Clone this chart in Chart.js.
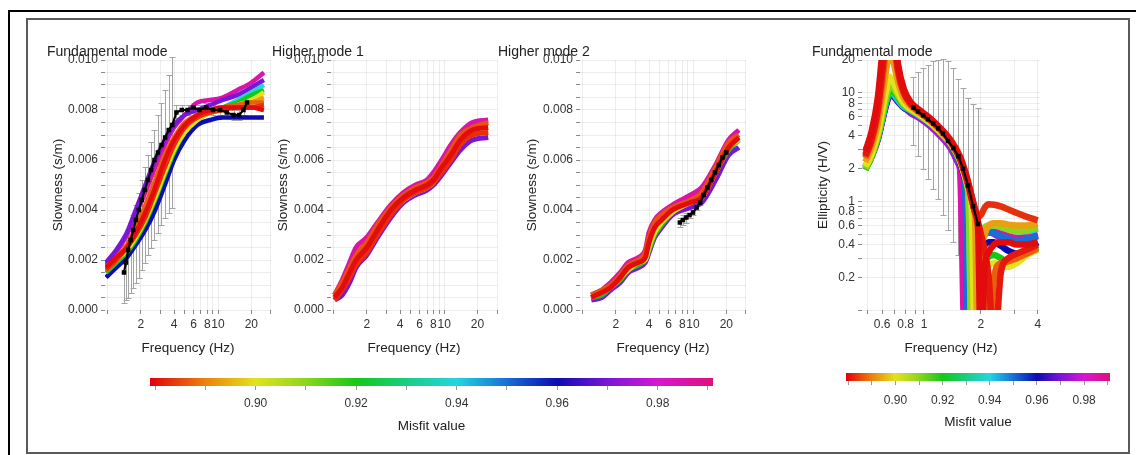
<!DOCTYPE html>
<html>
<head>
<meta charset="utf-8">
<title>Inversion results</title>
<script src="https://cdn.jsdelivr.net/npm/chart.js@4.4.1/dist/chart.umd.min.js"></script>
<style>
  html, body { margin: 0; padding: 0; background: #fff; }
  #page { position: relative; width: 1136px; height: 455px; overflow: hidden; background: #fff; }
  #page canvas { position: absolute; }
  .frame-outer { position: absolute; left: 8px; top: 10px; width: 1140px; height: 460px; border-top: 2px solid #000; border-left: 2px solid #000; }
  .frame-inner { position: absolute; left: 26px; top: 18px; width: 1104px; height: 436px; border: 2px solid #5a5a5a; box-sizing: border-box; }
</style>
</head>
<body>
<div id="page">
  <div class="frame-outer"></div>
  <div class="frame-inner"></div>
  <canvas id="fm" width="232" height="316" style="left:45px;top:40px"></canvas>
  <canvas id="h1" width="233" height="316" style="left:270px;top:40px"></canvas>
  <canvas id="h2" width="256" height="316" style="left:496px;top:40px"></canvas>
  <canvas id="ell" width="236" height="316" style="left:810px;top:40px"></canvas>
  <canvas id="cbDisp" width="583" height="72" style="left:140px;top:368px"></canvas>
  <canvas id="cbEll" width="284" height="72" style="left:836px;top:363px"></canvas>
</div>
<script>
// ---- axis ticks ----
const SLOW_LABELS = [0, 0.002, 0.004, 0.006, 0.008, 0.010];
const FREQ_TICKS = [1, 2, 3, 4, 5, 6, 7, 8, 9, 10, 20, 30];
const FREQ_LABELS = [2, 4, 6, 8, 10, 20];
const ELL_FREQ_TICKS = [0.5, 0.6, 0.7, 0.8, 0.9, 1, 2, 3, 4];
const ELL_FREQ_LABELS = [0.6, 0.8, 1, 2, 4];
const ELL_TICKS = [0.1, 0.2, 0.3, 0.4, 0.5, 0.6, 0.7, 0.8, 0.9, 1, 2, 3, 4, 5, 6, 7, 8, 9, 10, 20];
const ELL_LABELS = [0.2, 0.4, 0.6, 0.8, 1, 2, 4, 6, 8, 10, 20];
const MISFIT_RANGE = [0.879, 0.991];
const MISFIT_TICKS = [0.88, 0.89, 0.90, 0.91, 0.92, 0.93, 0.94, 0.95, 0.96, 0.97, 0.98, 0.99];
const MISFIT_LABELS = [0.90, 0.92, 0.94, 0.96, 0.98];

// ---- fundamental mode, slowness (s/m) ----
const FM_FREQ = [0.97, 1.2, 1.5, 1.8, 2.2, 2.7, 3.3, 4.0, 5.0, 6.5, 8.5, 11, 15, 20, 26];
const FM_985 = [0.0018, 0.0023, 0.0030, 0.0038, 0.0047, 0.0057, 0.0066, 0.0073, 0.0078, 0.0083, 0.0084, 0.0085, 0.0088, 0.0091, 0.0095];
const FM_970 = [0.0019, 0.0024, 0.0031, 0.0040, 0.0050, 0.0060, 0.0068, 0.0074, 0.0078, 0.0080, 0.0082, 0.0084, 0.0086, 0.0089, 0.0092];
const FM_960 = [0.0013, 0.0017, 0.0021, 0.0026, 0.0032, 0.0040, 0.0050, 0.0060, 0.0068, 0.0074, 0.0076, 0.0077, 0.0077, 0.0077, 0.0077];
const FM_940 = [0.0015, 0.0019, 0.0024, 0.0029, 0.0036, 0.0045, 0.0055, 0.0064, 0.0071, 0.0076, 0.0079, 0.0081, 0.0084, 0.0087, 0.0090];
const FM_920 = [0.0015, 0.0019, 0.0023, 0.0028, 0.0035, 0.0044, 0.0054, 0.0063, 0.0071, 0.0076, 0.0079, 0.0081, 0.0083, 0.0086, 0.0088];
const FM_900 = [0.0016, 0.0020, 0.0024, 0.0029, 0.0036, 0.0045, 0.0055, 0.0064, 0.0071, 0.0076, 0.0079, 0.0080, 0.0082, 0.0084, 0.0087];
const FM_893 = [0.0016, 0.0020, 0.0025, 0.0031, 0.0038, 0.0048, 0.0058, 0.0066, 0.0073, 0.0077, 0.0079, 0.0080, 0.0082, 0.0083, 0.0085];
const FM_887 = [0.0017, 0.0021, 0.0026, 0.0033, 0.0042, 0.0052, 0.0062, 0.0069, 0.0075, 0.0078, 0.0080, 0.0081, 0.0082, 0.0083, 0.0083];
const FM_883 = [0.0016, 0.0020, 0.0025, 0.0030, 0.0037, 0.0047, 0.0057, 0.0066, 0.0073, 0.0077, 0.0079, 0.0080, 0.0081, 0.0081, 0.0082];
const FM_880 = [0.0017, 0.0021, 0.0025, 0.0031, 0.0039, 0.0049, 0.0060, 0.0068, 0.0074, 0.0078, 0.0080, 0.0081, 0.0081, 0.0081, 0.0080];

const FM_OBS_FREQ = [1.41, 1.47, 1.54, 1.62, 1.71, 1.81, 1.92, 2.04, 2.17, 2.32, 2.48, 2.66, 2.86, 3.08, 3.32, 3.58, 3.86, 4.2, 4.7, 5.3, 6.0, 6.8, 7.8, 9.0, 10.4, 12, 13.8, 15.5, 17, 18.3];
const FM_OBS = [0.0015, 0.0019, 0.0024, 0.0028, 0.0032, 0.0036, 0.0040, 0.0044, 0.0048, 0.0052, 0.0056, 0.0060, 0.0063, 0.0066, 0.0069, 0.0072, 0.0074, 0.0079, 0.0080, 0.0080, 0.0081, 0.0080, 0.0081, 0.0080, 0.0080, 0.0079, 0.0078, 0.0078, 0.0080, 0.0083];
const FM_OBS_LOW = [0.0003, 0.0004, 0.0005, 0.0007, 0.0009, 0.0011, 0.0013, 0.0016, 0.0019, 0.0022, 0.0025, 0.0028, 0.0031, 0.0034, 0.0037, 0.0039, 0.0041, 0.0077, 0.0078, 0.0078, 0.0079, 0.0078, 0.0079, 0.0078, 0.0078, 0.0077, 0.0076, 0.0076, 0.0078, 0.0081];
const FM_OBS_HIGH = [0.0026, 0.0029, 0.0032, 0.0035, 0.0038, 0.0042, 0.0047, 0.0052, 0.0057, 0.0062, 0.0067, 0.0072, 0.0078, 0.0083, 0.0088, 0.0094, 0.0101, 0.0082, 0.0082, 0.0082, 0.0083, 0.0082, 0.0083, 0.0082, 0.0082, 0.0081, 0.0080, 0.0080, 0.0082, 0.0085];

// ---- higher mode 1 ----
const H1_FREQ = [1.02, 1.2, 1.4, 1.6, 2.0, 2.5, 3.3, 4.3, 5.5, 7.0, 8.0, 9.5, 11.5, 14, 18, 25];
const H1_985 = [0.0006, 0.0012, 0.0019, 0.0025, 0.0029, 0.0035, 0.0042, 0.0047, 0.0050, 0.0052, 0.0055, 0.0060, 0.0066, 0.0071, 0.0075, 0.0076];
const H1_970 = [0.0004, 0.0006, 0.0011, 0.0017, 0.0022, 0.0029, 0.0037, 0.0043, 0.0046, 0.0048, 0.0050, 0.0054, 0.0059, 0.0064, 0.0068, 0.0069];
const H1_900 = [0.0005, 0.0009, 0.0014, 0.0019, 0.0024, 0.0031, 0.0039, 0.0044, 0.0047, 0.0049, 0.0051, 0.0056, 0.0061, 0.0067, 0.0071, 0.0072];
const H1_886 = [0.0006, 0.0011, 0.0017, 0.0022, 0.0027, 0.0034, 0.0041, 0.0046, 0.0049, 0.0051, 0.0053, 0.0058, 0.0064, 0.0070, 0.0073, 0.0075];
const H1_883 = [0.0004, 0.0008, 0.0013, 0.0018, 0.0023, 0.0030, 0.0038, 0.0044, 0.0047, 0.0049, 0.0051, 0.0055, 0.0060, 0.0066, 0.0070, 0.0071];
const H1_880 = [0.0005, 0.0009, 0.0015, 0.0020, 0.0025, 0.0032, 0.0040, 0.0045, 0.0048, 0.0050, 0.0052, 0.0057, 0.0062, 0.0068, 0.0072, 0.0073];

// ---- higher mode 2 ----
const H2_FREQ = [1.2, 1.5, 1.8, 2.2, 2.6, 3.2, 3.7, 4.0, 4.5, 5.2, 6.5, 9.5, 12, 16, 21, 26];
const H2_985 = [0.0006, 0.0008, 0.0011, 0.0015, 0.0019, 0.0021, 0.0024, 0.0031, 0.0036, 0.0039, 0.0042, 0.0046, 0.0049, 0.0058, 0.0068, 0.0072];
const H2_970 = [0.0004, 0.0005, 0.0008, 0.0011, 0.0015, 0.0017, 0.0019, 0.0023, 0.0029, 0.0033, 0.0038, 0.0041, 0.0043, 0.0052, 0.0062, 0.0065];
const H2_920 = [0.0005, 0.0006, 0.0009, 0.0012, 0.0016, 0.0018, 0.0020, 0.0024, 0.0030, 0.0034, 0.0039, 0.0043, 0.0045, 0.0055, 0.0064, 0.0068];
const H2_900 = [0.0005, 0.0007, 0.0009, 0.0013, 0.0016, 0.0019, 0.0020, 0.0025, 0.0031, 0.0035, 0.0039, 0.0043, 0.0045, 0.0055, 0.0065, 0.0068];
const H2_886 = [0.0006, 0.0008, 0.0010, 0.0014, 0.0018, 0.0020, 0.0023, 0.0029, 0.0035, 0.0038, 0.0041, 0.0044, 0.0047, 0.0057, 0.0067, 0.0070];
const H2_880 = [0.0005, 0.0007, 0.0009, 0.0013, 0.0017, 0.0019, 0.0021, 0.0027, 0.0033, 0.0036, 0.0040, 0.0043, 0.0045, 0.0055, 0.0065, 0.0069];

const H2_OBS_FREQ = [7.6, 8.1, 8.7, 9.3, 10, 10.8, 11.6, 12.5, 13.5, 14.6, 15.8, 17.1, 18.5, 20];
const H2_OBS = [0.0035, 0.0036, 0.0037, 0.0038, 0.0039, 0.0041, 0.0043, 0.0046, 0.0049, 0.0052, 0.0055, 0.0058, 0.0061, 0.0063];
const H2_OBS_LOW = [0.0033, 0.0034, 0.0035, 0.0037, 0.0038, 0.0040, 0.0042, 0.0045, 0.0048, 0.0051, 0.0054, 0.0057, 0.0060, 0.0062];
const H2_OBS_HIGH = [0.0037, 0.0038, 0.0039, 0.0039, 0.0040, 0.0042, 0.0044, 0.0047, 0.0050, 0.0053, 0.0056, 0.0059, 0.0062, 0.0064];

// ---- ellipticity (H/V), fundamental mode ----
const ELL_FREQ = [0.49, 0.53, 0.57, 0.60, 0.63, 0.66, 0.69, 0.73, 0.78, 0.85, 0.95, 1.08, 1.22, 1.38, 1.55, 1.65, 1.72, 1.79, 1.86, 1.93, 2.0, 2.1, 2.2, 2.35, 2.55, 2.8, 3.1, 3.5, 4.0];
const ELL_985 = [2.0, 2.6, 3.7, 5.4, 7.6, 9.4, 9.2, 8.2, 7.3, 6.7, 6.0, 5.1, 4.2, 3.3, 2.0, 0.04, 0.15, 0.30, 0.40, 0.47, 0.52, 0.56, 0.57, 0.56, 0.52, 0.48, 0.46, 0.47, 0.50];
const ELL_975 = [2.1, 2.7, 3.8, 5.6, 7.9, 9.7, 9.4, 8.4, 7.4, 6.5, 5.8, 4.9, 4.0, 3.1, 2.1, 1.3, 0.04, 0.20, 0.32, 0.40, 0.46, 0.50, 0.52, 0.50, 0.46, 0.43, 0.42, 0.44, 0.48];
const ELL_960 = [2.05, 2.7, 3.8, 5.5, 7.8, 9.6, 9.3, 8.3, 7.3, 6.8, 6.1, 5.2, 4.3, 3.4, 2.3, 1.6, 1.0, 0.04, 0.20, 0.30, 0.36, 0.40, 0.42, 0.42, 0.39, 0.35, 0.33, 0.36, 0.42];
const ELL_950 = [2.05, 2.7, 3.85, 5.6, 8.0, 9.9, 9.5, 8.4, 7.4, 6.8, 6.1, 5.2, 4.3, 3.4, 2.3, 1.5, 0.04, 0.25, 0.35, 0.42, 0.47, 0.50, 0.52, 0.51, 0.48, 0.45, 0.43, 0.45, 0.48];
const ELL_940 = [2.0, 2.7, 3.9, 5.7, 8.2, 10.2, 9.8, 8.6, 7.5, 6.9, 6.1, 5.2, 4.3, 3.4, 2.4, 1.7, 1.1, 0.04, 0.30, 0.42, 0.50, 0.56, 0.59, 0.60, 0.58, 0.55, 0.53, 0.53, 0.56];
const ELL_920 = [1.95, 2.6, 3.9, 5.8, 8.4, 10.5, 10.2, 9.0, 7.7, 7.0, 6.2, 5.3, 4.3, 3.4, 2.4, 1.7, 1.2, 0.7, 0.04, 0.15, 0.22, 0.28, 0.31, 0.32, 0.30, 0.27, 0.28, 0.33, 0.38];
const ELL_910 = [2.0, 2.7, 4.0, 6.0, 9.0, 11.5, 11, 9.4, 7.9, 7.0, 6.2, 5.3, 4.3, 3.4, 2.4, 1.7, 1.2, 0.04, 0.30, 0.45, 0.53, 0.58, 0.60, 0.60, 0.58, 0.55, 0.53, 0.54, 0.58];
const ELL_900 = [2.1, 2.8, 4.3, 6.8, 10.5, 14, 12.5, 10, 8.1, 7.1, 6.3, 5.3, 4.4, 3.5, 2.4, 1.7, 1.3, 0.85, 0.04, 0.12, 0.18, 0.23, 0.26, 0.27, 0.26, 0.25, 0.27, 0.32, 0.36];
const ELL_893 = [2.3, 3.2, 5.2, 9, 16, 24, 19, 12.5, 9.0, 7.5, 6.5, 5.5, 4.5, 3.5, 2.4, 1.75, 1.35, 1.0, 0.75, 0.04, 0.30, 0.50, 0.60, 0.63, 0.63, 0.61, 0.60, 0.60, 0.62];
const ELL_887 = [2.5, 3.6, 6.2, 12, 26, 48, 30, 15, 10, 7.8, 6.6, 5.6, 4.6, 3.6, 2.5, 1.8, 1.4, 1.05, 0.80, 0.60, 0.40, 0.20, 0.04, 0.20, 0.27, 0.28, 0.30, 0.33, 0.37];
const ELL_883 = [2.7, 4.0, 7.5, 16, 38, 65, 36, 17, 10.5, 8.0, 6.8, 5.7, 4.7, 3.7, 2.6, 1.9, 1.45, 1.1, 0.85, 0.72, 0.75, 0.88, 0.94, 0.93, 0.90, 0.84, 0.78, 0.72, 0.67];
const ELL_881 = [2.6, 3.8, 7, 15, 32, 55, 33, 16, 10.2, 7.9, 6.7, 5.6, 4.6, 3.6, 2.5, 1.85, 1.45, 1.1, 0.85, 0.65, 0.50, 0.35, 0.20, 0.04, 0.22, 0.30, 0.33, 0.36, 0.40];
const ELL_880 = [2.9, 4.5, 9, 22, 50, 75, 40, 18, 11, 8.2, 6.9, 5.8, 4.7, 3.6, 2.5, 1.8, 1.4, 1.05, 0.80, 0.60, 0.04, 0.25, 0.34, 0.40, 0.42, 0.42, 0.40, 0.40, 0.42];

const ELL_OBS_FREQ = [0.88, 0.93, 0.99, 1.05, 1.12, 1.19, 1.26, 1.34, 1.43, 1.52, 1.61, 1.71, 1.82, 1.93];
const ELL_OBS = [7.3, 6.7, 6.2, 5.7, 5.2, 4.7, 4.2, 3.6, 3.1, 2.6, 2.0, 1.4, 0.9, 0.62];
const ELL_OBS_LOW = [3.3, 2.6, 2.0, 1.6, 1.3, 1.05, 0.75, 0.55, 0.42, 0.32, 0.28, 0.22, 0.20, 0.18];
const ELL_OBS_HIGH = [14, 15.5, 17, 18, 19.5, 20, 20.5, 19.5, 17, 13.5, 11, 9, 7.8, 7.3];

// misfit colour scale: red (best) -> yellow -> green -> cyan -> blue -> magenta
const MISFIT_PALETTE = [
  [0.879, [226, 0, 12]],
  [0.890, [236, 130, 12]],
  [0.900, [226, 226, 30]],
  [0.910, [140, 214, 30]],
  [0.920, [22, 200, 22]],
  [0.930, [24, 206, 130]],
  [0.940, [34, 214, 224]],
  [0.950, [24, 110, 214]],
  [0.960, [12, 12, 176]],
  [0.970, [122, 22, 214]],
  [0.980, [214, 22, 210]],
  [0.991, [224, 16, 122]]
];

const FONT = '"Liberation Sans", Arial, Helvetica, sans-serif';
Chart.defaults.font.family = FONT;
Chart.defaults.color = '#333';
const TICK_FONT = { size: 12 };
const TITLE_FONT = { size: 13.5 };

function misfitColor(m) {
  const p = MISFIT_PALETTE;
  if (m <= p[0][0]) return `rgb(${p[0][1].join(',')})`;
  for (let i = 1; i < p.length; i++) {
    if (m <= p[i][0]) {
      const t = (m - p[i - 1][0]) / (p[i][0] - p[i - 1][0]);
      const a = p[i - 1][1], b = p[i][1];
      const c = a.map((v, k) => Math.round(v + (b[k] - v) * t));
      return `rgb(${c.join(',')})`;
    }
  }
  return `rgb(${p[p.length - 1][1].join(',')})`;
}

const near = (list, v) => list.some(t => Math.abs(t - v) < 1e-9);

// panel title drawn in the top-left corner of the canvas
const panelTitle = {
  id: 'panelTitle',
  afterDraw(chart, args, opts) {
    if (!opts.text) return;
    const ctx = chart.ctx;
    ctx.save();
    ctx.font = '14px ' + FONT;
    ctx.fillStyle = '#222';
    ctx.textBaseline = 'middle';
    ctx.fillText(opts.text, 2, 12);
    ctx.restore();
  }
};

// vertical error bars for the observed curve (dataset.errLow / errHigh)
const errorBars = {
  id: 'errorBars',
  beforeDatasetsDraw(chart) {
    const ctx = chart.ctx;
    const xs = chart.scales.x, ys = chart.scales.y;
    chart.data.datasets.forEach(ds => {
      if (!ds.errLow) return;
      ctx.save();
      ctx.strokeStyle = '#a4a4a4';
      ctx.lineWidth = 1;
      ds.data.forEach((p, i) => {
        const x = Math.round(xs.getPixelForValue(p.x)) + 0.5;
        const y0 = Math.round(ys.getPixelForValue(ds.errLow[i])) + 0.5;
        const y1 = Math.round(ys.getPixelForValue(ds.errHigh[i])) + 0.5;
        ctx.beginPath();
        ctx.moveTo(x, y0); ctx.lineTo(x, y1);
        ctx.moveTo(x - 3, y0); ctx.lineTo(x + 3, y0);
        ctx.moveTo(x - 3, y1); ctx.lineTo(x + 3, y1);
        ctx.stroke();
      });
      ctx.restore();
    });
  }
};

function curveSets(freq, curves, width) {
  return curves.map(c => ({
    data: freq.map((f, i) => ({ x: f, y: c.values[i] })),
    borderColor: misfitColor(c.misfit),
    borderWidth: width,
    pointRadius: 0,
    cubicInterpolationMode: 'monotone',
    order: Math.round(c.misfit * 1000)
  }));
}

function observedSet(freq, values, low, high) {
  return {
    data: freq.map((f, i) => ({ x: f, y: values[i] })),
    errLow: low,
    errHigh: high,
    borderColor: '#000',
    borderWidth: 2.2,
    pointStyle: 'rect',
    pointRadius: 1.6,
    pointBackgroundColor: '#000',
    pointBorderColor: '#000',
    tension: 0,
    order: 0
  };
}

const gridStyle = { color: 'rgba(0,0,0,0.07)', tickColor: '#8a8a8a', tickLength: 4 };

function freqAxis(min, max, ticks, labels) {
  return {
    type: 'logarithmic', min, max,
    afterBuildTicks: s => { s.ticks = ticks.map(v => ({ value: v })); },
    afterFit: s => { s.height = 46; },
    ticks: {
      autoSkip: false, maxRotation: 0, minRotation: 0, padding: 3,
      font: TICK_FONT, color: '#333',
      callback: v => near(labels, v) ? String(v) : ''
    },
    grid: gridStyle,
    border: { display: false },
    title: { display: true, text: 'Frequency (Hz)', font: TITLE_FONT, color: '#222', padding: { top: 0, bottom: 0 } }
  };
}

function slownessAxis(width, titlePad) {
  const minor = [];
  for (let i = 0; i <= 20; i++) minor.push(i * 0.0005);
  return {
    min: 0, max: 0.01,
    afterBuildTicks: s => { s.ticks = minor.map(v => ({ value: v })); },
    afterFit: s => { s.width = width; },
    ticks: {
      autoSkip: false, padding: 3, font: TICK_FONT, color: '#333',
      callback: v => near(SLOW_LABELS, v) ? v.toFixed(3) : ''
    },
    grid: gridStyle,
    border: { display: false },
    title: { display: true, text: 'Slowness (s/m)', font: TITLE_FONT, color: '#222', padding: { top: titlePad, bottom: 0 } }
  };
}

function makePanel(id, title, datasets, xScale, yScale) {
  return new Chart(document.getElementById(id), {
    type: 'line',
    data: { datasets },
    plugins: [panelTitle, errorBars],
    options: {
      responsive: false,
      animation: false,
      devicePixelRatio: 1,
      layout: { padding: { left: 0, top: 20, right: 6, bottom: 0 } },
      plugins: {
        legend: { display: false },
        tooltip: { enabled: false },
        panelTitle: { text: title }
      },
      scales: { x: xScale, y: yScale }
    }
  });
}

// ===== Fundamental mode =====
makePanel('fm', 'Fundamental mode', [
  observedSet(FM_OBS_FREQ, FM_OBS, FM_OBS_LOW, FM_OBS_HIGH),
  ...curveSets(FM_FREQ, [
    { misfit: 0.985, values: FM_985 }, { misfit: 0.970, values: FM_970 },
    { misfit: 0.960, values: FM_960 }, { misfit: 0.940, values: FM_940 },
    { misfit: 0.920, values: FM_920 }, { misfit: 0.900, values: FM_900 },
    { misfit: 0.893, values: FM_893 }, { misfit: 0.887, values: FM_887 },
    { misfit: 0.883, values: FM_883 }, { misfit: 0.880, values: FM_880 }
  ], 4.5)
], freqAxis(0.95, 30, FREQ_TICKS, FREQ_LABELS), slownessAxis(60, 4.9));

// ===== Higher mode 1 =====
makePanel('h1', 'Higher mode 1', curveSets(H1_FREQ, [
  { misfit: 0.985, values: H1_985 }, { misfit: 0.970, values: H1_970 },
  { misfit: 0.900, values: H1_900 }, { misfit: 0.886, values: H1_886 },
  { misfit: 0.883, values: H1_883 }, { misfit: 0.880, values: H1_880 }
], 5), freqAxis(0.95, 30, FREQ_TICKS, FREQ_LABELS), slownessAxis(61, 4.9));

// ===== Higher mode 2 =====
makePanel('h2', 'Higher mode 2', [
  observedSet(H2_OBS_FREQ, H2_OBS, H2_OBS_LOW, H2_OBS_HIGH),
  ...curveSets(H2_FREQ, [
    { misfit: 0.985, values: H2_985 }, { misfit: 0.970, values: H2_970 },
    { misfit: 0.920, values: H2_920 }, { misfit: 0.900, values: H2_900 },
    { misfit: 0.886, values: H2_886 }, { misfit: 0.880, values: H2_880 }
  ], 5)
], freqAxis(0.95, 30, FREQ_TICKS, FREQ_LABELS), slownessAxis(84, 27.9));

// ===== Ellipticity =====
makePanel('ell', 'Fundamental mode', [
  observedSet(ELL_OBS_FREQ, ELL_OBS, ELL_OBS_LOW, ELL_OBS_HIGH),
  ...curveSets(ELL_FREQ, [
    { misfit: 0.985, values: ELL_985 }, { misfit: 0.975, values: ELL_975 },
    { misfit: 0.960, values: ELL_960 }, { misfit: 0.950, values: ELL_950 },
    { misfit: 0.940, values: ELL_940 }, { misfit: 0.920, values: ELL_920 },
    { misfit: 0.910, values: ELL_910 }, { misfit: 0.900, values: ELL_900 },
    { misfit: 0.893, values: ELL_893 }, { misfit: 0.887, values: ELL_887 },
    { misfit: 0.883, values: ELL_883 }, { misfit: 0.881, values: ELL_881 },
    { misfit: 0.880, values: ELL_880 }
  ], 6.5)
], freqAxis(0.47, 4.1, ELL_FREQ_TICKS, ELL_FREQ_LABELS), {
  type: 'logarithmic', min: 0.1, max: 20,
  afterBuildTicks: s => { s.ticks = ELL_TICKS.map(v => ({ value: v })); },
  afterFit: s => { s.width = 52; },
  ticks: {
    autoSkip: false, padding: 3, font: TICK_FONT, color: '#333',
    callback: v => near(ELL_LABELS, v) ? String(v) : ''
  },
  grid: gridStyle,
  border: { display: false },
  title: { display: true, text: 'Ellipticity (H/V)', font: TITLE_FONT, color: '#222', padding: { top: 4.9, bottom: 0 } }
});

// ===== Misfit colour bars =====
function makeColorBar(id, labelPad, titlePad) {
  return new Chart(document.getElementById(id), {
    type: 'bar',
    data: {
      labels: ['misfit'],
      datasets: [{
        data: [[MISFIT_RANGE[0], MISFIT_RANGE[1]]],
        backgroundColor: (context) => {
          const { ctx, chartArea } = context.chart;
          if (!chartArea) return '#e00';
          const g = ctx.createLinearGradient(chartArea.left, 0, chartArea.right, 0);
          const span = MISFIT_RANGE[1] - MISFIT_RANGE[0];
          MISFIT_PALETTE.forEach(([m, c]) => {
            g.addColorStop(Math.min(1, Math.max(0, (m - MISFIT_RANGE[0]) / span)), `rgb(${c.join(',')})`);
          });
          return g;
        },
        borderWidth: 0,
        borderSkipped: false,
        barPercentage: 1,
        categoryPercentage: 1
      }]
    },
    options: {
      indexAxis: 'y',
      responsive: false,
      animation: false,
      devicePixelRatio: 1,
      layout: { padding: { left: 10, top: 10, right: 10, bottom: 0 } },
      plugins: { legend: { display: false }, tooltip: { enabled: false } },
      scales: {
        y: { display: false },
        x: {
          type: 'linear', min: MISFIT_RANGE[0], max: MISFIT_RANGE[1],
          afterBuildTicks: s => { s.ticks = MISFIT_TICKS.map(v => ({ value: v })); },
          afterFit: s => { s.height = 54; },
          ticks: {
            autoSkip: false, maxRotation: 0, padding: labelPad, font: TICK_FONT, color: '#333',
            callback: v => near(MISFIT_LABELS, v) ? v.toFixed(2) : ''
          },
          grid: { drawOnChartArea: false, tickColor: '#9a9a9a', tickLength: 4 },
          border: { display: false },
          title: { display: true, text: 'Misfit value', font: TITLE_FONT, color: '#222', padding: { top: 0, bottom: titlePad } }
        }
      }
    }
  });
}

makeColorBar('cbDisp', 6, 5.9);
makeColorBar('cbEll', 8, 4.9);
</script>
</body>
</html>
